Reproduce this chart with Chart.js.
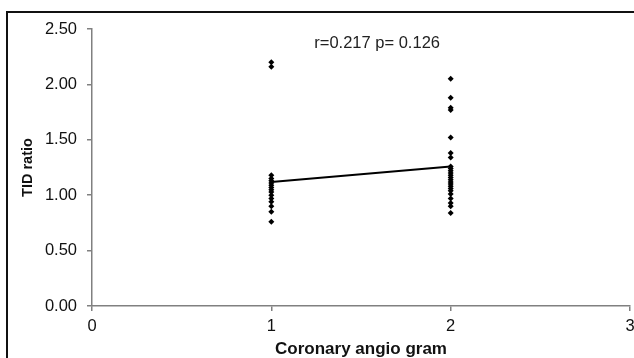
<!DOCTYPE html>
<html>
<head>
<meta charset="utf-8">
<script src="https://cdn.jsdelivr.net/npm/chart.js@4/dist/chart.umd.min.js"></script>
<style>
    html, body { margin: 0; padding: 0; background: #fff; overflow: hidden; }
    #wrap { position: relative; width: 634px; height: 358px; }
    #frame {
        position: absolute; left: 6px; top: 11px; width: 700px; height: 400px;
        border: 2px solid #111; pointer-events: none;
    }
</style>
</head>
<body>
<div id="wrap">
    <canvas id="tidChart" width="634" height="358"></canvas>
    <div id="frame"></div>
</div>
<script>
// TID ratio readings by coronary angiogram group
const groupOneX = 1;
const groupOneValues = [2.20, 2.16, 1.18, 1.15, 1.13, 1.11, 1.09, 1.07, 1.05, 1.03, 1.00, 0.97, 0.94, 0.90, 0.85, 0.76];
const groupTwoX = 2;
const groupTwoValues = [2.05, 1.88, 1.79, 1.77, 1.52, 1.38, 1.34, 1.26, 1.24, 1.22, 1.20, 1.18, 1.16, 1.14, 1.12, 1.10, 1.08, 1.06, 1.04, 1.01, 0.97, 0.93, 0.90, 0.84];
const trendX = [1, 2];
const trendY = [1.12, 1.26];
const statsLabel = 'r=0.217 p= 0.126';
const statsPos = { x: 1.59, y: 2.37 };

const FONT = "'Liberation Sans', Arial, sans-serif";

const statsText = {
    id: 'statsText',
    afterDatasetsDraw(chart) {
        const { ctx, scales } = chart;
        ctx.save();
        ctx.font = '16.5px ' + FONT;
        ctx.fillStyle = '#222';
        ctx.textAlign = 'center';
        ctx.textBaseline = 'middle';
        ctx.fillText(statsLabel, scales.x.getPixelForValue(statsPos.x), scales.y.getPixelForValue(statsPos.y));
        ctx.restore();
    }
};

function toPoints(x, values) {
    return values.map(v => ({ x: x, y: v }));
}

const pointStyle = {
    pointStyle: 'rectRot',
    pointRadius: 3,
    pointBackgroundColor: '#000',
    pointBorderColor: '#000',
    pointBorderWidth: 0,
    showLine: false
};

new Chart(document.getElementById('tidChart'), {
    type: 'scatter',
    data: {
        datasets: [
            Object.assign({ label: 'Group 1', data: toPoints(groupOneX, groupOneValues) }, pointStyle),
            Object.assign({ label: 'Group 2', data: toPoints(groupTwoX, groupTwoValues) }, pointStyle),
            {
                label: 'Trend',
                type: 'line',
                data: trendX.map((x, i) => ({ x: x, y: trendY[i] })),
                borderColor: '#000',
                borderWidth: 2,
                pointRadius: 0,
                fill: false
            }
        ]
    },
    options: {
        responsive: false,
        animation: false,
        devicePixelRatio: 1,
        layout: { padding: { top: 29, right: 3, left: 0, bottom: 0 } },
        plugins: {
            legend: { display: false },
            tooltip: { enabled: false }
        },
        scales: {
            x: {
                type: 'linear',
                min: 0,
                max: 3,
                ticks: { stepSize: 1, color: '#111', font: { family: FONT, size: 16.5 }, padding: 6 },
                grid: { drawOnChartArea: false, tickLength: 5, color: '#808080', lineWidth: 1.5 },
                border: { color: '#808080', width: 1.5 },
                title: {
                    display: true,
                    text: 'Coronary angio gram',
                    color: '#111',
                    font: { family: FONT, size: 17, weight: 'bold', lineHeight: 1 },
                    padding: { top: 0, bottom: 0 }
                },
                afterFit(scale) {
                    scale.height = 52;
                    scale.paddingLeft = 0;
                    scale.paddingRight = 0;
                }
            },
            y: {
                min: 0,
                max: 2.5,
                ticks: {
                    stepSize: 0.5,
                    color: '#111',
                    font: { family: FONT, size: 16.5 },
                    padding: 10,
                    callback: v => v.toFixed(2)
                },
                grid: { drawOnChartArea: false, tickLength: 5, color: '#808080', lineWidth: 1.5 },
                border: { color: '#808080', width: 1.5 },
                title: {
                    display: true,
                    text: 'TID ratio',
                    color: '#111',
                    font: { family: FONT, size: 14.5, weight: 'bold' },
                    padding: { top: 19, bottom: 0 }
                },
                afterFit(scale) {
                    scale.width = 92;
                    scale.paddingTop = 0;
                    scale.paddingBottom = 0;
                }
            }
        }
    },
    plugins: [statsText]
});
</script>
</body>
</html>
